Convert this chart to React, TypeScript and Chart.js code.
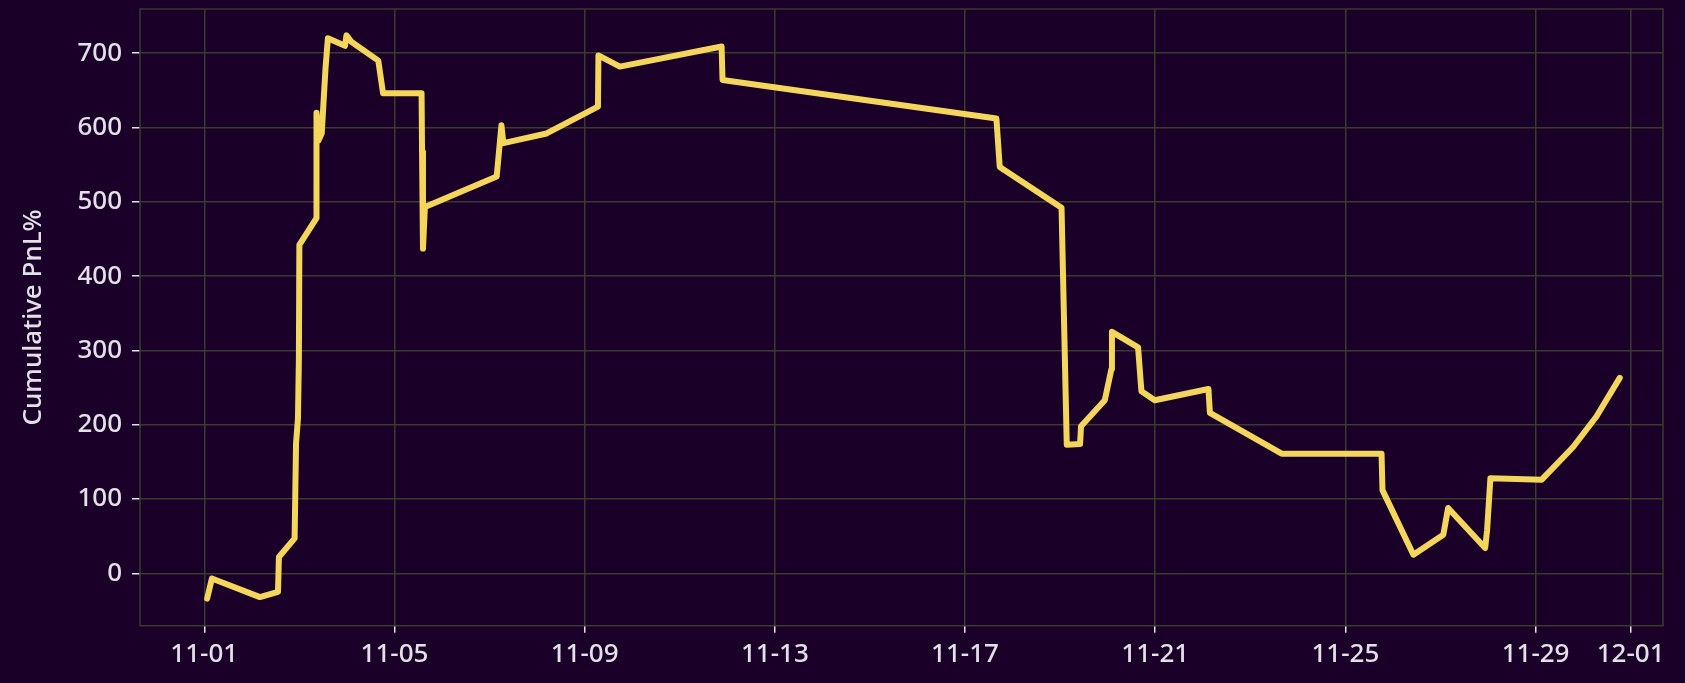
import React, { useEffect, useRef } from "react";
import { Chart, registerables } from "chart.js";

Chart.register(...registerables);

// Days elapsed since 11-01 (fractional) for each trade close
const dayOffsets: number[] = [
  0.06, 0.16, 1.17, 1.55, 1.57, 1.9, 1.93, 1.97, 1.99, 2.0, 2.36, 2.36, 2.4, 2.47, 2.55, 2.6,
  2.96, 2.99, 3.1, 3.66, 3.76, 4.57, 4.58, 4.6, 4.64, 6.15, 6.25, 6.29, 7.2, 8.28, 8.29, 8.74,
  10.88, 10.9, 16.66, 16.73, 18.03, 18.14, 18.42, 18.44, 18.94, 19.08, 19.09, 19.64, 19.71,
  19.99, 21.12, 21.15, 22.66, 24.76, 24.78, 25.43, 26.06, 26.16, 26.94, 26.98, 27.05, 28.13,
  28.79, 29.28, 29.77,
];

// Cumulative PnL % at each of those moments
const pnlValues: number[] = [
  -34, -7, -32, -25, 22, 47, 175, 208, 290, 442, 478, 620, 582, 592, 680, 720,
  710, 724, 715, 690, 646, 646, 567, 437, 493, 534, 603, 579, 592, 628, 697, 682,
  709, 664, 612, 547, 492, 173, 174, 198, 233, 275, 325, 304, 245,
  233, 248, 216, 161, 161, 112, 25, 52, 88, 34, 58, 128, 126,
  170, 211, 263,
];

const xTickValues: number[] = [0, 4, 8, 12, 16, 20, 24, 28, 30];
const xTickLabels: string[] = ["11-01", "11-05", "11-09", "11-13", "11-17", "11-21", "11-25", "11-29", "12-01"];
const yTickValues: number[] = [0, 100, 200, 300, 400, 500, 600, 700];

const BG = "#1a0029";
const GRID = "#3a3b2c";
const TEXT = "#e4e0e8";
const LINE = "#f3d65b";
const FONT = "'Noto Sans', sans-serif";

const frame = {
  id: "frame",
  beforeDraw(chart: any) {
    const { ctx, width, height } = chart;
    ctx.save();
    ctx.fillStyle = BG;
    ctx.fillRect(0, 0, width, height);
    ctx.restore();
  },
  afterDatasetsDraw(chart: any) {
    const { ctx, chartArea } = chart;
    ctx.save();
    ctx.strokeStyle = GRID;
    ctx.lineWidth = 1.5;
    ctx.strokeRect(chartArea.left, chartArea.top, chartArea.right - chartArea.left, chartArea.bottom - chartArea.top);
    ctx.restore();
  },
};

export default function App() {
  const ref = useRef<HTMLCanvasElement | null>(null);

  useEffect(() => {
    if (!ref.current) return;
    const points = dayOffsets.map((d, i) => ({ x: d, y: pnlValues[i] }));
    const chart = new Chart(ref.current, {
      type: "line",
      data: {
        datasets: [
          {
            data: points,
            borderColor: LINE,
            borderWidth: 6,
            pointRadius: 0,
            tension: 0,
            fill: false,
            borderJoinStyle: "round",
            borderCapStyle: "round",
          },
        ],
      },
      options: {
        animation: false,
        responsive: false,
        parsing: false,
        layout: { padding: { left: 0, top: 9, right: 22, bottom: 0 } },
        plugins: { legend: { display: false }, tooltip: { enabled: false } },
        scales: {
          x: {
            type: "linear",
            min: -1.352,
            max: 30.68,
            afterFit: (s: any) => {
              s.height = 57.3;
              s.paddingLeft = 0;
              s.paddingRight = 0;
            },
            afterBuildTicks: (s: any) => {
              s.ticks = xTickValues.map((v) => ({ value: v }));
            },
            ticks: {
              color: TEXT,
              font: { family: FONT, size: 26, weight: "500" },
              padding: 6,
              maxRotation: 0,
              autoSkip: false,
              callback: (v: any) => {
                const i = xTickValues.indexOf(Number(v));
                return i >= 0 ? xTickLabels[i] : "";
              },
            },
            grid: { color: GRID, lineWidth: 1.5, tickColor: TEXT, tickLength: 7, drawTicks: true },
            border: { display: false },
          },
          y: {
            type: "linear",
            min: -70.5,
            max: 759.5,
            afterFit: (s: any) => {
              s.width = 140;
              s.paddingTop = 0;
              s.paddingBottom = 0;
            },
            afterBuildTicks: (s: any) => {
              s.ticks = yTickValues.map((v) => ({ value: v }));
            },
            ticks: {
              color: TEXT,
              font: { family: FONT, size: 26, weight: "500" },
              padding: 10,
              callback: (v: any) => String(v),
            },
            grid: { color: GRID, lineWidth: 1.5, tickColor: TEXT, tickLength: 8 },
            border: { display: false },
            title: {
              display: true,
              text: "Cumulative PnL%",
              color: TEXT,
              font: { family: FONT, size: 26, weight: "500" },
              padding: { top: 18, bottom: 0 },
            },
          },
        },
      },
      plugins: [frame],
    });
    return () => chart.destroy();
  }, []);

  return (
    <div style={{ position: "fixed", left: 0, top: 0, width: 1685, height: 683, background: BG }}>
      <canvas ref={ref} width={1685} height={683} style={{ display: "block", width: 1685, height: 683 }} />
    </div>
  );
}
